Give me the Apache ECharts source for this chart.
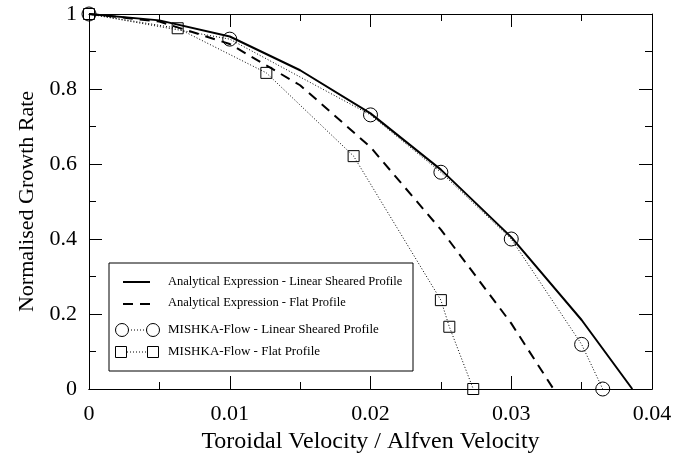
<!DOCTYPE html>
<html>
<head>
    <meta charset="UTF-8">
    <title>Normalised Growth Rate</title>
    <style>
        html, body { margin: 0; padding: 0; background: #fff; }
        #main { width: 699px; height: 460px; }
    </style>
</head>
<body>
<div id="main"></div>
<script src="https://cdn.jsdelivr.net/npm/echarts@6/dist/echarts.min.js"></script>
<script>
    // analytical expression, linear sheared profile
    var velSheared = [0, 0.005, 0.01, 0.015, 0.02, 0.025, 0.03, 0.035, 0.0386];
    var rateSheared = [1, 0.983, 0.94, 0.85, 0.735, 0.585, 0.405, 0.184, 0];
    // analytical expression, flat profile
    var velFlat = [0, 0.005, 0.01, 0.015, 0.02, 0.025, 0.03, 0.033];
    var rateFlat = [1, 0.98, 0.92, 0.81, 0.645, 0.425, 0.175, 0];
    // MISHKA-Flow runs
    var velMishkaSheared = [0, 0.01, 0.02, 0.025, 0.03, 0.035, 0.0365];
    var rateMishkaSheared = [1, 0.933, 0.731, 0.578, 0.40, 0.119, 0];
    var velMishkaFlat = [0, 0.0063, 0.0126, 0.0188, 0.025, 0.0256, 0.0273];
    var rateMishkaFlat = [1, 0.962, 0.843, 0.621, 0.237, 0.166, 0];

    var legendNames = [
        'Analytical Expression - Linear Sheared Profile',
        'Analytical Expression - Flat Profile',
        'MISHKA-Flow - Linear Sheared Profile',
        'MISHKA-Flow - Flat Profile'
    ];

    function pairs(xs, ys) {
        var out = [];
        for (var i = 0; i < xs.length; i++) {
            out.push([xs[i], ys[i]]);
        }
        return out;
    }

    var serif = '"Liberation Serif", "DejaVu Serif", serif';
    var plotRect = {left: 89, right: 47, top: 14, bottom: 71};

    function setRange(ax, type) {
        if (type === 'x') {
            ax.min = 0; ax.max = 0.04; ax.interval = 0.01;
        } else {
            ax.min = 0; ax.max = 1; ax.interval = 0.2;
        }
        return ax;
    }

    // frame axis: line + inward ticks only
    function frameAxis(type, pos, grid) {
        return setRange({
            type: 'value', gridIndex: grid, position: pos,
            axisLine: {show: true, onZero: false, lineStyle: {color: '#000'}},
            axisTick: {show: true, inside: true, length: 13, lineStyle: {color: '#000'}},
            minorTick: {show: true, splitNumber: 2, length: 7, lineStyle: {color: '#000'}},
            splitLine: {show: false},
            axisLabel: {show: false}
        }, type);
    }

    // labelled axis: tick labels + axis name, no ticks (those come from the frame grid)
    function labelAxis(type, pos, name, gap, margin, nameSize) {
        return setRange({
            type: 'value', gridIndex: 0, position: pos,
            axisLine: {show: true, onZero: false, lineStyle: {color: '#000'}},
            axisTick: {show: false},
            minorTick: {show: false},
            splitLine: {show: false},
            axisLabel: {margin: margin, color: '#000', fontFamily: serif, fontSize: 22},
            name: name,
            nameLocation: 'middle',
            nameGap: gap,
            nameTextStyle: {color: '#000', fontFamily: serif, fontSize: nameSize}
        }, type);
    }

    // legend box drawn by hand so the marker-dotted-marker icons look right
    var legend = [
        {type: 'rect', shape: {x: 109, y: 263, width: 304, height: 108},
            style: {fill: '#fff', stroke: '#000', lineWidth: 1}},
        {type: 'line', shape: {x1: 123, y1: 282, x2: 150, y2: 282},
            style: {stroke: '#000', lineWidth: 2}},
        {type: 'line', shape: {x1: 123, y1: 304, x2: 151, y2: 304},
            style: {stroke: '#000', lineWidth: 2, lineDash: [10, 7]}},
        {type: 'line', shape: {x1: 128, y1: 330, x2: 147, y2: 330},
            style: {stroke: '#000', lineWidth: 1, lineDash: [1, 2]}},
        {type: 'circle', shape: {cx: 122, cy: 330, r: 6.5},
            style: {fill: 'none', stroke: '#000', lineWidth: 1}},
        {type: 'circle', shape: {cx: 153, cy: 330, r: 6.5},
            style: {fill: 'none', stroke: '#000', lineWidth: 1}},
        {type: 'line', shape: {x1: 127, y1: 352, x2: 147, y2: 352},
            style: {stroke: '#000', lineWidth: 1, lineDash: [1, 2]}},
        {type: 'rect', shape: {x: 115.5, y: 346.5, width: 11, height: 11},
            style: {fill: 'none', stroke: '#000', lineWidth: 1}},
        {type: 'rect', shape: {x: 147.5, y: 346.5, width: 11, height: 11},
            style: {fill: 'none', stroke: '#000', lineWidth: 1}}
    ];
    var rowsY = [282, 303, 330, 352];
    var rowsFont = [12.5, 12.5, 13, 13];
    for (var k = 0; k < legendNames.length; k++) {
        legend.push({
            type: 'text',
            style: {
                text: legendNames[k], x: 168, y: rowsY[k],
                verticalAlign: 'middle', fill: '#000',
                font: rowsFont[k] + 'px ' + serif
            }
        });
    }

    var chart = echarts.init(document.getElementById('main'));
    chart.setOption({
        animation: false,
        backgroundColor: '#fff',
        // two identical grids: 0 carries labels and data, 1 carries the tick frame
        grid: [plotRect, plotRect],
        xAxis: [
            labelAxis('x', 'bottom', 'Toroidal Velocity / Alfven Velocity', 38, 14, 24),
            frameAxis('x', 'top', 0),
            frameAxis('x', 'bottom', 1)
        ],
        yAxis: [
            labelAxis('y', 'left', 'Normalised Growth Rate', 42, 12, 22),
            frameAxis('y', 'right', 0),
            frameAxis('y', 'left', 1)
        ],
        graphic: legend,
        series: [
            {
                name: legendNames[0], type: 'line', data: pairs(velSheared, rateSheared),
                showSymbol: false, clip: false,
                lineStyle: {color: '#000', width: 2}
            },
            {
                name: legendNames[1], type: 'line', data: pairs(velFlat, rateFlat),
                showSymbol: false, clip: false,
                lineStyle: {color: '#000', width: 2, type: [10, 7]}
            },
            {
                name: legendNames[2], type: 'line', data: pairs(velMishkaSheared, rateMishkaSheared),
                symbol: 'circle', symbolSize: 14, clip: false,
                itemStyle: {color: 'rgba(0,0,0,0)', borderColor: '#000', borderWidth: 1},
                lineStyle: {color: '#000', width: 1, type: [1, 2]}
            },
            {
                name: legendNames[3], type: 'line', data: pairs(velMishkaFlat, rateMishkaFlat),
                symbol: 'rect', symbolSize: 11, clip: false,
                itemStyle: {color: 'rgba(0,0,0,0)', borderColor: '#000', borderWidth: 1},
                lineStyle: {color: '#000', width: 1, type: [1, 2]}
            }
        ]
    });
</script>
</body>
</html>
